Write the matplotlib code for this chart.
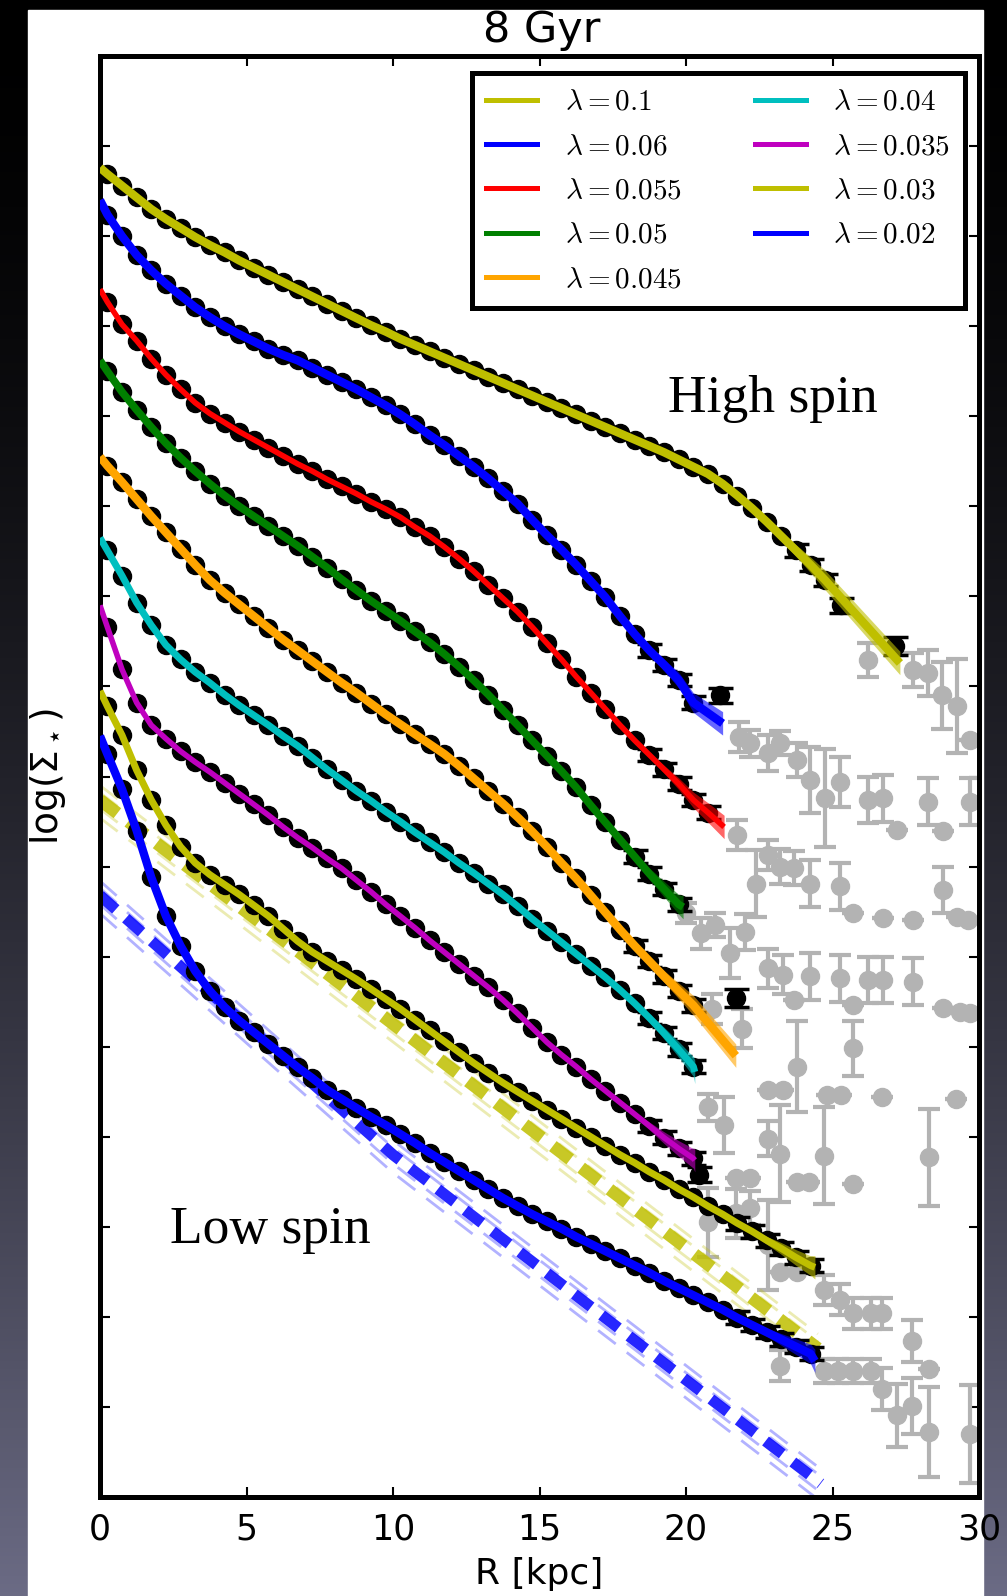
import numpy as np
import matplotlib
matplotlib.use('Agg')
import matplotlib.pyplot as plt
from matplotlib.lines import Line2D
from matplotlib.patches import Rectangle

# radii of the annuli (kpc)
radius = np.arange(0.25, 30.0, 0.5)

# surface density profiles, one per spin parameter
lam_010 = [14.69, 14.56, 14.43, 14.30, 14.19, 14.09, 13.99, 13.90, 13.82, 13.73,
           13.65, 13.57, 13.49, 13.41, 13.33, 13.25, 13.17, 13.09, 13.01, 12.94,
           12.86, 12.79, 12.72, 12.65, 12.58, 12.51, 12.44, 12.37, 12.30, 12.23,
           12.16, 12.09, 12.02, 11.95, 11.88, 11.81, 11.74, 11.67, 11.60, 11.52,
           11.44, 11.36, 11.25, 11.12, 10.98, 10.83, 10.67, 10.51, 10.35, 10.18]
lam_006 = [14.24, 14.00, 13.79, 13.62, 13.47, 13.34, 13.21, 13.10, 13.00, 12.91,
           12.83, 12.75, 12.68, 12.62, 12.54, 12.46, 12.38, 12.30, 12.21, 12.12,
           12.02, 11.91, 11.79, 11.68, 11.56, 11.44, 11.31, 11.17, 11.03, 10.85,
           10.68, 10.52, 10.35, 10.17, 9.99, 9.78, 9.58, 9.40, 9.24, 9.07,
           8.82]
lam_0055 = [13.27, 13.02, 12.84, 12.64, 12.46, 12.30, 12.15, 12.03, 11.93, 11.83,
            11.74, 11.65, 11.56, 11.47, 11.39, 11.30, 11.22, 11.14, 11.05, 10.97,
            10.88, 10.77, 10.67, 10.55, 10.42, 10.28, 10.13, 9.98, 9.83, 9.66,
            9.48, 9.30, 9.11, 8.93, 8.75, 8.57, 8.40, 8.24, 8.08, 7.92,
            7.74, 7.60]
lam_005 = [12.50, 12.27, 12.07, 11.88, 11.70, 11.54, 11.39, 11.25, 11.12, 11.00,
           10.89, 10.78, 10.67, 10.56, 10.44, 10.32, 10.19, 10.07, 9.95, 9.84,
           9.73, 9.61, 9.49, 9.36, 9.22, 9.07, 8.91, 8.74, 8.57, 8.40,
           8.23, 8.06, 7.88, 7.68, 7.49, 7.30, 7.11, 6.92, 6.75, 6.58]
lam_0045 = [11.45, 11.27, 11.08, 10.89, 10.71, 10.53, 10.35, 10.18, 10.04, 9.91,
            9.78, 9.65, 9.52, 9.40, 9.28, 9.16, 9.04, 8.93, 8.81, 8.69,
            8.58, 8.47, 8.36, 8.25, 8.12, 7.98, 7.84, 7.70, 7.55, 7.39,
            7.22, 7.04, 6.87, 6.68, 6.49, 6.30, 6.12, 5.95, 5.78, 5.62,
            5.46]
lam_004 = [10.51, 10.23, 9.93, 9.68, 9.46, 9.30, 9.16, 9.04, 8.91, 8.79,
           8.68, 8.57, 8.45, 8.34, 8.21, 8.08, 7.96, 7.84, 7.73, 7.61,
           7.50, 7.38, 7.27, 7.16, 7.04, 6.93, 6.81, 6.69, 6.56, 6.42,
           6.29, 6.16, 6.03, 5.90, 5.77, 5.63, 5.48, 5.32, 5.15, 4.97,
           4.78]
lam_0035 = [9.66, 9.19, 8.82, 8.57, 8.42, 8.28, 8.16, 8.05, 7.93, 7.81,
            7.69, 7.57, 7.44, 7.32, 7.21, 7.09, 6.98, 6.85, 6.72, 6.58,
            6.45, 6.32, 6.18, 6.05, 5.92, 5.79, 5.66, 5.52, 5.37, 5.21,
            5.05, 4.91, 4.78, 4.64, 4.51, 4.38, 4.25, 4.12, 3.99, 3.87,
            3.76]
lam_003 = [8.78, 8.46, 8.07, 7.74, 7.46, 7.22, 7.04, 6.91, 6.80, 6.69,
           6.57, 6.45, 6.31, 6.17, 6.05, 5.95, 5.85, 5.75, 5.64, 5.53,
           5.42, 5.30, 5.18, 5.06, 4.94, 4.82, 4.71, 4.60, 4.50, 4.40,
           4.30, 4.20, 4.10, 4.00, 3.90, 3.80, 3.71, 3.61, 3.52, 3.42,
           3.33, 3.23, 3.14, 3.04, 2.95, 2.85, 2.76, 2.66, 2.57]
lam_002 = [8.25, 7.86, 7.40, 6.88, 6.45, 6.12, 5.84, 5.62, 5.44, 5.29,
           5.16, 5.03, 4.90, 4.77, 4.65, 4.52, 4.42, 4.32, 4.22, 4.13,
           4.03, 3.93, 3.82, 3.72, 3.62, 3.52, 3.42, 3.32, 3.23, 3.14,
           3.06, 2.98, 2.89, 2.81, 2.73, 2.65, 2.57, 2.49, 2.40, 2.32,
           2.24, 2.16, 2.08, 1.99, 1.91, 1.83, 1.75, 1.67, 1.59]

labels = [r'$\lambda=0.1$', r'$\lambda=0.06$', r'$\lambda=0.055$', r'$\lambda=0.05$',
          r'$\lambda=0.045$', r'$\lambda=0.04$', r'$\lambda=0.035$', r'$\lambda=0.03$',
          r'$\lambda=0.02$']
colors = [(0.75, 0.75, 0), 'b', 'r', 'g', 'orange', (0, 0.75, 0.75), (0.75, 0, 0.75),
          (0.75, 0.75, 0), 'b']
profiles = [lam_010, lam_006, lam_0055, lam_005, lam_0045, lam_004, lam_0035, lam_003, lam_002]
line_w = [6, 6, 4, 5.5, 6, 5, 4, 5, 6]

# fitted model: central value and outer end
fit_centre = [14.76, 14.40, 13.41, 12.62, 11.55, 10.65, 9.90, 8.95, 8.45]
fit_end_r = [27.3, 21.25, 21.3, 19.9, 21.7, 20.3, 20.3, 24.4, 24.4]
fit_end_v = [9.26, 8.59, 7.44, 6.55, 4.90, 4.72, 3.74, 2.55, 1.51]
# number of outer points that carry error bars
n_err = [3, 4, 5, 4, 5, 4, 4, 6, 6]

# extra outer black points (r, value, error)
extra_r = [25.3, 27.15, 21.16, 21.7, 20.45]
extra_v = [9.90, 9.45, 8.90, 5.54, 3.58]
extra_e = [0.08, 0.10, 0.08, 0.10, 0.08]

# low signal-to-noise points (grey)
grey_r = [26.2, 27.76, 28.27, 28.73, 29.24, 29.7,
          21.8, 22.2, 22.8, 23.2, 23.78, 24.23, 24.74, 25.25, 26.2, 26.73, 27.2, 28.27, 28.78, 29.7,
          21.73, 22.4, 22.8, 23.2, 23.7, 24.23, 25.25, 25.7, 26.73, 27.76, 28.78, 29.24, 29.64,
          20.0, 20.5, 21.0, 21.5, 22.0, 22.8, 23.3, 23.7, 24.23, 25.25, 25.7, 26.2, 26.73, 27.76,
          28.78, 29.35, 29.7,
          20.9, 21.9, 23.78, 25.7, 22.8, 23.3, 24.8, 25.3, 26.7, 29.2,
          20.75, 21.3, 22.8, 23.2, 24.7, 28.3, 21.7, 22.2, 23.8, 24.2, 25.7,
          20.75, 21.7, 22.2, 22.8, 23.2, 23.8, 24.7, 25.25, 25.7, 26.3, 26.7, 27.7, 28.3,
          23.2, 24.7, 25.2, 25.7, 26.3, 26.7, 27.2, 27.7, 28.3, 29.7]
grey_v = [9.29, 9.18, 9.15, 8.90, 8.78, 8.41,
          8.44, 8.37, 8.26, 8.37, 8.18, 7.96, 7.76, 7.94, 7.74, 7.76, 7.41, 7.72, 7.39, 7.72,
          7.35, 6.81, 7.13, 7.00, 6.98, 6.81, 6.78, 6.48, 6.43, 6.41, 6.74, 6.44, 6.41,
          6.48, 6.26, 6.35, 6.04, 6.27, 5.87, 5.80, 5.52, 5.78, 5.76, 5.46, 5.74, 5.74, 5.72,
          5.43, 5.39, 5.37,
          5.42, 5.20, 4.78, 4.98, 4.52, 4.52, 4.46, 4.46, 4.44, 4.42,
          4.33, 4.13, 3.98, 3.81, 3.79, 3.77, 3.54, 3.54, 3.50, 3.50, 3.48,
          3.05, 3.15, 3.21, 2.80, 2.50, 2.50, 2.30, 2.19, 2.04, 2.04, 2.04, 1.73, 1.42,
          1.46, 1.40, 1.40, 1.40, 1.40, 1.20, 0.91, 1.01, 0.72, 0.70]
grey_e = [0.19, 0.19, 0.26, 0.37, 0.52, 0.0,
          0.17, 0.15, 0.20, 0.13, 0.19, 0.37, 0.54, 0.28, 0.26, 0.26, 0.0, 0.26, 0.0, 0.26,
          0.17, 0.37, 0.17, 0.19, 0.19, 0.26, 0.26, 0.0, 0.0, 0.0, 0.26, 0.0, 0.0,
          0.11, 0.17, 0.13, 0.28, 0.20, 0.22, 0.22, 0.0, 0.26, 0.26, 0.0, 0.26, 0.26, 0.26,
          0.0, 0.0, 0.0,
          0.17, 0.22, 0.50, 0.30, 0.0, 0.0, 0.0, 0.0, 0.0, 0.0,
          0.15, 0.31, 0.19, 0.54, 0.54, 0.54, 0.0, 0.0, 0.0, 0.0, 0.0,
          0.38, 0.27, 0.19, 0.50, 0.0, 0.0, 0.17, 0.17, 0.17, 0.17, 0.17, 0.23, 0.0,
          0.17, 0.13, 0.13, 0.13, 0.13, 0.23, 0.35, 0.31, 0.50, 0.54]

# exponential disc components of the two lowest spins
disc_003_r = [0, 15.36, 24.5]
disc_003_v = [7.74, 3.92, 1.65]
disc_002_r = [0, 10.0, 24.6]
disc_002_v = [6.68, 3.80, 0.15]
disc_spread = [-0.2, -0.1, 0.08, 0.16]

fig = plt.figure(figsize=(10.07, 15.96), dpi=100)

# dark slide background with white panel
bg = fig.add_axes([0, 0, 1, 1], zorder=-10)
t = np.linspace(0, 1, 400)[:, None] ** 1.6
top = np.array([0.0, 0.0, 0.0])
bot = np.array([0.42, 0.42, 0.52])
grad = top + (bot - top) * t[..., None]
grad = np.repeat(grad, 2, axis=1)
bg.imshow(grad, extent=[0, 1, 0, 1], aspect='auto')
bg.add_patch(Rectangle((28 / 1007, 0), (983 - 28) / 1007, 1 - 10 / 1596,
                       color='white', transform=fig.transFigure))
bg.set_xlim(0, 1)
bg.set_ylim(0, 1)
bg.axis('off')

ax = fig.add_axes([100 / 1007, 1 - 1497 / 1596, 879 / 1007, 1441 / 1596])

ax.errorbar(grey_r, grey_v, yerr=grey_e, fmt='o', color='#b3b3b3', ms=13,
            elinewidth=3, capsize=8, capthick=3, zorder=2)

for v, c, lw, c0, er, ev, ne in zip(profiles, colors, line_w, fit_centre,
                                    fit_end_r, fit_end_v, n_err):
    r = radius[:len(v)]
    ax.errorbar(r[-ne:], v[-ne:], yerr=0.07, fmt='none', ecolor='k',
                elinewidth=2.5, capsize=9, capthick=2.5, zorder=3)
    ax.plot(r, v, 'o', color='k', ms=13, zorder=3)
    ax.plot(np.r_[0, r, er], np.r_[c0, v, ev], '-', color=c, lw=lw, zorder=4,
            solid_capstyle='butt')
    # spread of the fits towards the outer edge
    sr = np.r_[r[-6:], er]
    sv = np.r_[v[-6:], ev]
    w = np.linspace(0.0, 0.13, len(sr))
    ax.fill_between(sr, sv - w, sv + w, color=c, alpha=0.6, lw=0, zorder=4)

ax.errorbar(extra_r, extra_v, yerr=extra_e, fmt='o', color='k', ms=13,
            elinewidth=2.5, capsize=9, capthick=2.5, zorder=3)

for dr, dv, c, lw, dsh in [(disc_003_r, disc_003_v, (0.75, 0.75, 0), 9, (1.75, 1.1)),
                           (disc_002_r, disc_002_v, 'b', 8, (1.9, 1.2))]:
    ax.plot(dr, dv, color=c, lw=lw, dashes=dsh, alpha=0.85, zorder=2.5,
            dash_capstyle='butt')
    for s in disc_spread:
        ax.plot(dr, np.array(dv) + s, color=c, lw=2, dashes=(8, 5), alpha=0.3,
                zorder=2.5)

ax.set_xlim(0, 30)
ax.set_ylim(0, 16)
ax.set_xticks(range(0, 31, 5))
ax.set_yticks(range(0, 17))
ax.tick_params(direction='in', length=7, width=1.5, top=True, right=True,
               labelleft=False, labelsize=25, pad=11)
for sp in ax.spines.values():
    sp.set_linewidth(3.6)

ax.set_xlabel('R [kpc]', fontsize=26, labelpad=8)
ax.set_ylabel(r'$\log(\Sigma_\star)$', fontsize=27, math_fontfamily='dejavusans')
ax.yaxis.set_label_coords(-0.036, 0.5)

fig.text(542 / 1007, 1 - 42 / 1596, '8 Gyr', ha='center', va='baseline', fontsize=31)

ax.text(0.646, 0.753, 'High spin', transform=ax.transAxes, fontsize=38.5,
        family='Liberation Serif', ha='left', va='baseline')
ax.text(0.0796, 0.1765, 'Low spin', transform=ax.transAxes, fontsize=38.5,
        family='Liberation Serif', ha='left', va='baseline')

handles = [Line2D([], [], color=c, lw=3.6) for c in colors]
leg = ax.legend(handles, labels, ncol=2, loc='upper right', bbox_to_anchor=(0.984, 0.988),
                borderaxespad=0, fancybox=False, edgecolor='k', framealpha=1,
                prop={'size': 21, 'math_fontfamily': 'cm'}, handlelength=1.75,
                handletextpad=0.95, columnspacing=2.5, labelspacing=0.56, borderpad=0.5)
leg.get_frame().set_linewidth(3.6)

fig.savefig('out.png', dpi=100)
